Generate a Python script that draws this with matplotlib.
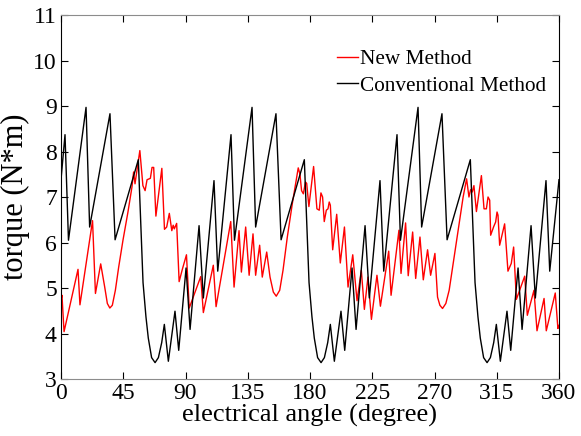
import matplotlib
matplotlib.use("Agg")
import matplotlib.pyplot as plt

plt.rcParams.update({
    "font.family": "serif",
    "font.serif": ["Liberation Serif", "DejaVu Serif"],
    "mathtext.fontset": "custom",
})

# electrical angle (deg) and torque (N*m)
new_angle = [0, 0.7, 2.2, 12.3, 13.7, 22.8, 24.9, 28.7, 31.6, 33.5, 35.3, 37.1,
             39.3, 41.7, 44.8, 48.4, 51.3, 52.5, 53.5, 57.0, 59.2, 60.8, 62.2,
             64.6, 65.8, 67.0, 68.6, 72.9, 74.8, 76.4, 78.3, 80.1, 81.1, 81.9,
             83.6, 85.4, 87.8, 90.7, 92.7, 101.0, 102.9, 110.1, 112.1, 122.7,
             125.1, 128.7, 130.4, 133.5, 136.0, 138.8, 140.7, 143.6, 145.5,
             148.7, 151.1, 153.5, 155.6, 158.1, 160.5, 163.6, 167.2, 169.6,
             171.5, 172.7, 173.9, 175.2, 176.7, 177.6, 179.2, 182.6, 185.0,
             186.7, 187.9, 189.1, 190.3, 191.8, 193.0, 193.9, 194.7, 196.4,
             199.3, 201.9, 204.9, 207.5, 210.9, 214.0, 217.1, 219.3, 221.9,
             224.4, 228.4, 230.9, 236.9, 238.6, 244.3, 245.8, 249.1, 251.0,
             254.2, 256.4, 259.5, 261.9, 265.0, 267.2, 270.3, 272.2, 273.9,
             275.8, 278.2, 280.6, 283.5, 287.1, 290.7, 293.2, 294.9, 296.1,
             297.3, 298.5, 300.3, 303.9, 305.8, 307.5, 308.7, 309.9, 310.6,
             312.8, 314.2, 315.2, 315.9, 317.1, 320.7, 323.1, 325.5, 327.2,
             329.2, 335.2, 337.1, 341.9, 344.1, 349.2, 350.8, 357.3, 359.2, 360]
new_torque = [4.75, 4.84, 4.04, 5.41, 4.63, 6.48, 4.88, 5.53, 5.02, 4.66, 4.56, 4.62,
              4.95, 5.46, 6.05, 6.67, 7.22, 7.55, 7.29, 8.02, 7.25, 7.14, 7.38,
              7.41, 7.65, 7.65, 6.58, 7.63, 6.29, 6.34, 6.64, 6.26, 6.38, 6.30,
              6.42, 5.14, 5.42, 5.73, 4.56, 5.25, 4.46, 5.50, 4.59, 6.46,
              5.02, 6.26, 5.35, 6.34, 5.28, 6.19, 5.28, 5.94, 5.24,
              5.79, 5.24, 4.91, 4.82, 4.95, 5.39, 6.12, 6.85, 7.29,
              7.64, 7.51, 7.14, 7.07, 7.33, 7.30, 6.79, 7.67, 6.74,
              6.71, 7.09, 7.00, 6.46, 6.71, 6.74, 6.89, 6.82, 5.84,
              6.62, 5.55, 6.34, 5.02, 5.73, 4.72, 5.39, 4.53, 5.24,
              4.31, 5.28, 4.60, 5.81, 4.84, 6.27, 5.32, 6.43, 5.27,
              6.23, 5.21, 6.12, 5.18, 5.84, 5.28, 5.76, 4.80, 4.62,
              4.55, 4.66, 4.95, 5.54, 6.27, 7.00, 7.40, 7.00, 7.16,
              7.11, 7.25, 6.68, 7.47, 6.74, 6.74, 7.00, 6.93, 6.16,
              6.35, 6.45, 6.67, 6.60, 5.94, 6.41, 5.37, 5.54, 5.90,
              4.75, 5.26, 4.40, 4.95, 4.06, 4.77, 4.06, 4.89, 4.11, 4.18]

conv_angle = [0, 2.9, 5.4, 18.1, 20.7, 35.4, 39.1, 55.9, 59.3, 61.4, 63.1, 65.5,
              68.0, 70.4, 72.8, 74.7, 77.6, 82.4, 85.1, 90.4, 93.3, 99.8, 102.9,
              110.6, 113.3,
              122.9, 125.4, 138.1, 140.7, 155.4, 159.1, 175.9, 179.3, 181.4,
              183.1, 185.5, 188.0, 190.4, 192.8, 194.7, 197.6, 202.4, 205.1,
              210.4, 213.3, 219.8, 222.9, 230.6, 233.3,
              242.9, 245.4, 258.1, 260.7, 275.4, 279.1, 295.9, 299.3, 301.4,
              303.1, 305.5, 308.0, 310.4, 312.8, 314.7, 317.6, 322.4, 325.1,
              330.4, 333.3, 339.8, 342.9, 350.6, 353.3, 360]
conv_torque = [7.38, 8.37, 6.05, 8.97, 6.34, 8.83, 6.06, 7.82, 5.12, 4.37, 3.90, 3.47,
               3.36, 3.47, 3.80, 4.20, 3.39, 4.49, 3.63, 5.44, 4.09, 6.37, 4.78,
               7.36, 5.37,
               8.37, 6.05, 8.97, 6.34, 8.83, 6.06, 7.82, 5.12, 4.37,
               3.90, 3.47, 3.36, 3.47, 3.80, 4.20, 3.39, 4.49, 3.63,
               5.44, 4.09, 6.37, 4.78, 7.36, 5.37,
               8.37, 6.05, 8.97, 6.34, 8.83, 6.06, 7.82, 5.12, 4.37,
               3.90, 3.47, 3.36, 3.47, 3.80, 4.20, 3.39, 4.49, 3.63,
               5.44, 4.09, 6.37, 4.78, 7.36, 5.37, 7.38]

x_ticks = [0, 45, 90, 135, 180, 225, 270, 315, 360]
y_ticks = [3, 4, 5, 6, 7, 8, 9, 10, 11]

fig = plt.figure(figsize=(5.81, 4.36), dpi=100)
ax = fig.add_axes([61 / 581, 1 - 379 / 436, 498 / 581, 364 / 436])

ax.plot(new_angle, new_torque, color="red", lw=1.0, label="New Method")
ax.plot(conv_angle, conv_torque, color="black", lw=1.0, label="Conventional Method")

ax.set_xlim(0, 360)
ax.set_ylim(3, 11)
ax.set_xticks(x_ticks)
ax.set_yticks(y_ticks)
ax.tick_params(direction="in", length=5, width=0.8, top=True, right=True,
               labelsize=17, pad=3)
for side in ["top", "bottom"]:
    ax.spines[side].set_color("#8c8c8c")
for side in ["left", "right"]:
    ax.spines[side].set_color("black")

ax.set_xlabel("electrical angle (degree)", fontsize=19, labelpad=0)
ax.set_ylabel("torque (N*m)", fontsize=22, labelpad=2)

ax.legend(loc="upper right", bbox_to_anchor=(1.0, 0.94), frameon=False,
          fontsize=15.3, handlelength=1.0, handletextpad=0.1, labelspacing=0.3,
          borderaxespad=0.2)

fig.savefig("out.png", dpi=100)
